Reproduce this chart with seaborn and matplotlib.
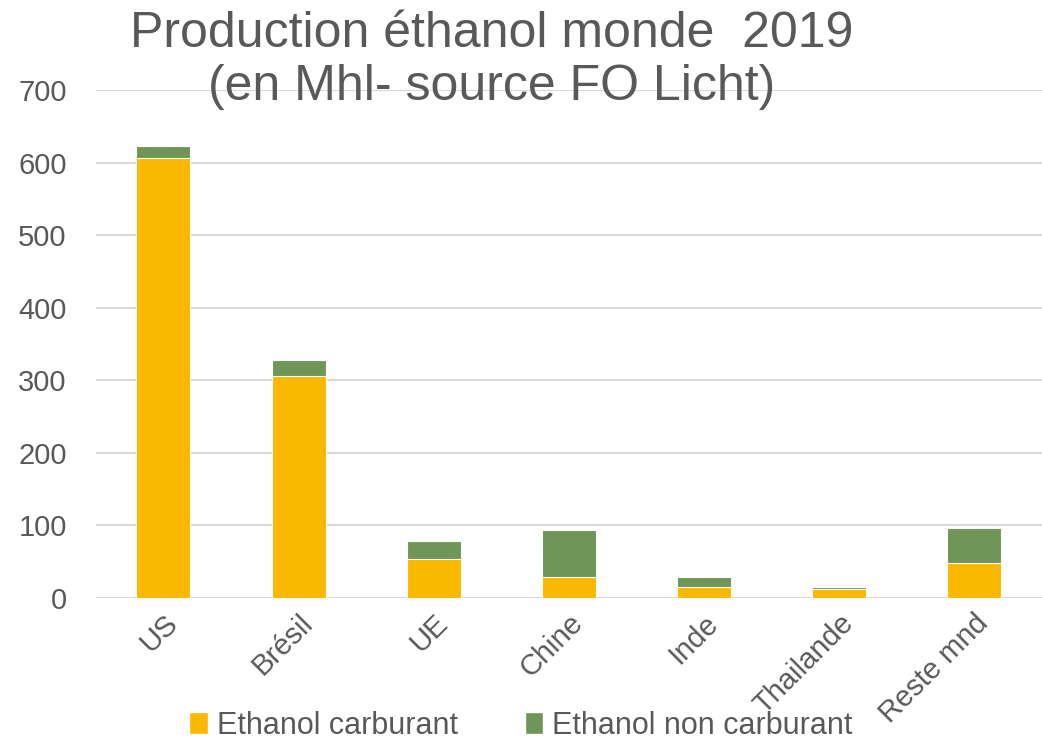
import matplotlib
matplotlib.use("Agg")
import matplotlib.pyplot as plt
import seaborn as sns
import pandas as pd
from matplotlib.patches import Patch

categories = ["US", "Brésil", "UE", "Chine", "Inde", "Thailande", "Reste mnd"]
carburant = [607, 306, 54, 29, 15, 12, 48]
non_carburant = [16, 22, 25, 65, 14, 3, 48]
series_names = ["Ethanol carburant", "Ethanol non carburant"]
yticks = [0, 100, 200, 300, 400, 500, 600, 700]

sns.set_theme(style="white")
plt.rcParams['font.family'] = ['Liberation Sans', 'DejaVu Sans']

df = pd.DataFrame({"cat": categories, "carb": carburant, "non": non_carburant})
df["total"] = df["carb"] + df["non"]

fig = plt.figure(figsize=(10.42, 7.53), dpi=100)
ax = fig.add_axes([0.092, 0.206, 0.908, 0.674])

yellow = "#FBB800"
green = "#6F9656"
grey = "#595959"

sns.barplot(data=df, x="cat", y="total", color=green, width=0.4, ax=ax,
            saturation=1, edgecolor="white", linewidth=0.8, zorder=3)
sns.barplot(data=df, x="cat", y="carb", color=yellow, width=0.4, ax=ax,
            saturation=1, edgecolor="white", linewidth=0.8, zorder=4)

ax.set_ylim(0, 700)
ax.set_xlim(-0.5, 6.5)
ax.set_yticks(yticks)
ax.set_yticklabels([str(v) for v in yticks])
ax.yaxis.grid(True, color="#D9D9D9", linewidth=1.5, zorder=0)
ax.set_axisbelow(True)
for s in ax.spines.values():
    s.set_visible(False)
ax.tick_params(axis="both", length=0, labelsize=21, labelcolor=grey)
ax.tick_params(axis="y", pad=21)
ax.tick_params(axis="x", pad=8)
ax.set_xlabel("")
ax.set_ylabel("")
plt.setp(ax.get_xticklabels(), rotation=45, ha="right", rotation_mode="anchor")

fig.text(0.472, 0.985, "Production éthanol monde  2019\n(en Mhl- source FO Licht)",
         ha="center", va="top", fontsize=36, color=grey, linespacing=1.2)

handles = [Patch(facecolor=yellow, label=series_names[0]),
           Patch(facecolor=green, label=series_names[1])]
fig.legend(handles=handles, loc="lower center", bbox_to_anchor=(0.5, -0.02), ncol=2,
           frameon=False, fontsize=22, labelcolor=grey, handlelength=0.6,
           handleheight=0.7, handletextpad=0.3, columnspacing=2.2)

fig.savefig("out.png", dpi=100, facecolor="white")
